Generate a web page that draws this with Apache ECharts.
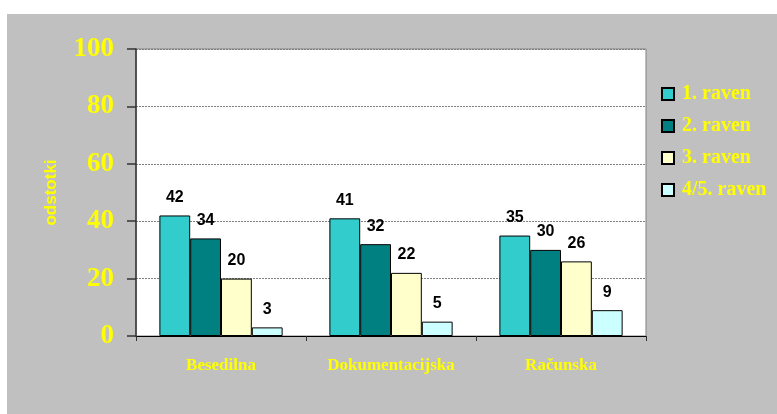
<!DOCTYPE html>
<html>
<head>
<meta charset="utf-8">
<script src="https://cdn.jsdelivr.net/npm/echarts@6/dist/echarts.min.js"></script>
<style>
html,body{margin:0;padding:0;background:#fff;}
#bg{position:absolute;left:7px;top:14px;width:770px;height:400px;background:#c0c0c0;}
#chart{position:absolute;left:0;top:0;width:777px;height:414px;}
</style>
</head>
<body>
<div id="bg"></div>
<div id="chart"></div>
<script>
const categories = ['Besedilna', 'Dokumentacijska', 'Računska'];
const seriesNames = ['1. raven', '2. raven', '3. raven', '4/5. raven'];
const raven1 = [42, 41, 35];
const raven2 = [34, 32, 30];
const raven3 = [20, 22, 26];
const raven45 = [3, 5, 9];
const yTicks = [0, 20, 40, 60, 80, 100];

const colors = ['#33CCCC', '#008080', '#FFFFCC', '#CCFFFF'];
const values = [raven1, raven2, raven3, raven45];

const chart = echarts.init(document.getElementById('chart'));
chart.setOption({
  backgroundColor: 'transparent',
  animation: false,
  grid: {
    left: 136, right: 131, top: 49, bottom: 78,
    show: true, backgroundColor: '#ffffff', borderColor: '#808080', borderWidth: 1
  },
  legend: {
    orient: 'vertical',
    left: 656, top: 79,
    itemWidth: 12, itemHeight: 12, itemGap: 12,
    icon: 'rect',
    data: seriesNames,
    textStyle: { color: '#ffff00', fontFamily: '"Liberation Serif", "Times New Roman", serif', fontWeight: 'bold', fontSize: 20, padding: [0, 0, 0, 3] }
  },
  xAxis: {
    type: 'category',
    data: categories,
    axisLine: { lineStyle: { color: '#000', width: 1 } },
    axisTick: { show: true, length: 5, lineStyle: { color: '#333' } },
    axisLabel: { color: '#ffff00', fontFamily: '"Liberation Serif", "Times New Roman", serif', fontWeight: 'bold', fontSize: 17, margin: 21 }
  },
  yAxis: {
    type: 'value',
    min: 0, max: 100, interval: 20,
    name: 'odstotki',
    nameLocation: 'middle',
    nameGap: 76,
    nameTextStyle: { color: '#ffff00', fontFamily: '"Liberation Sans", Arial, sans-serif', fontWeight: 'bold', fontSize: 17 },
    axisLine: { show: true, lineStyle: { color: '#333', width: 1.5 } },
    axisTick: { show: true, length: 9, inside: false, lineStyle: { color: '#333', width: 1.5 } },
    axisLabel: {
      color: '#ffff00', fontFamily: '"Liberation Serif", "Times New Roman", serif', fontWeight: 'bold', fontSize: 27, margin: 22,
      formatter: function (v) { return yTicks.indexOf(v) >= 0 ? String(v) : ''; }
    },
    splitLine: { show: true, lineStyle: { color: '#808080', type: [2, 1], width: 1 } }
  },
  series: seriesNames.map(function (name, i) {
    return {
      name: name,
      type: 'bar',
      data: values[i],
      barGap: '0%',
      barCategoryGap: '27.5%',
      itemStyle: { color: colors[i], borderColor: '#000', borderWidth: 1 },
      label: {
        show: true, position: 'top', distance: 10,
        color: '#000', fontFamily: '"Liberation Sans", Arial, sans-serif', fontWeight: 'bold', fontSize: 16
      }
    };
  })
});
</script>
</body>
</html>
